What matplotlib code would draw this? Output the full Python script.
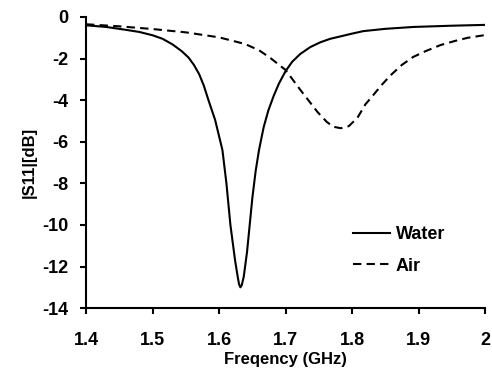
import matplotlib.pyplot as plt

plt.rcParams['font.family'] = ['Liberation Sans', 'DejaVu Sans']
plt.rcParams['font.weight'] = 'bold'
plt.rcParams['axes.unicode_minus'] = False

# Water curve
freq_water = [1.40, 1.43, 1.456, 1.48, 1.50, 1.515, 1.53, 1.544, 1.554, 1.562,
              1.570, 1.577, 1.584, 1.594, 1.605, 1.611, 1.617, 1.624, 1.628, 1.630,
              1.632, 1.634, 1.637, 1.642, 1.646, 1.650, 1.655, 1.660, 1.667, 1.674,
              1.682, 1.690, 1.700, 1.710, 1.722, 1.737, 1.752, 1.767, 1.783, 1.80,
              1.817, 1.85, 1.892, 1.95, 2.00]
s11_water = [-0.40, -0.48, -0.60, -0.72, -0.88, -1.05, -1.32, -1.65, -1.95, -2.3,
             -2.75, -3.3, -4.0, -4.95, -6.4, -8.0, -10.0, -11.7, -12.5, -12.85,
             -13.0, -12.9, -12.5, -11.3, -10.0, -8.7, -7.4, -6.4, -5.3, -4.5,
             -3.8, -3.2, -2.6, -2.15, -1.78, -1.45, -1.22, -1.05, -0.93, -0.80,
             -0.68, -0.57, -0.48, -0.42, -0.38]

# Air curve
freq_air = [1.40, 1.45, 1.50, 1.55, 1.60, 1.639, 1.66, 1.677, 1.70, 1.722, 1.748,
            1.762, 1.772, 1.783, 1.795, 1.808, 1.82, 1.832, 1.845, 1.858, 1.875,
            1.892, 1.91, 1.933, 1.955, 1.974, 2.00]
s11_air = [-0.35, -0.45, -0.58, -0.74, -0.98, -1.30, -1.6, -1.97, -2.55, -3.5, -4.57,
           -5.05, -5.28, -5.35, -5.25, -4.85, -4.2, -3.75, -3.25, -2.8, -2.3,
           -1.92, -1.65, -1.35, -1.15, -1.0, -0.87]

fig = plt.figure(figsize=(4.92, 3.69), dpi=100)
ax = fig.add_axes([0.175, 0.165, 0.811, 0.789])

ax.plot(freq_water, s11_water, color='black', lw=1.5, label='Water')
ax.plot(freq_air, s11_air, color='black', lw=1.5, ls=(0, (4, 2.5)), label='Air')

ax.set_xlim(1.4, 2.0)
ax.set_ylim(-14, 0)
ax.set_xticks([1.4, 1.5, 1.6, 1.7, 1.8, 1.9, 2.0])
ax.set_xticklabels(['1.4', '1.5', '1.6', '1.7', '1.8', '1.9', '2'])
ax.set_yticks(range(-14, 1, 2))
ax.spines['top'].set_visible(False)
ax.spines['right'].set_visible(False)
ax.spines['left'].set_linewidth(1.5)
ax.spines['bottom'].set_linewidth(1.5)
ax.tick_params(direction='out', length=4.5, width=1.5, labelsize=13)
ax.tick_params(axis='x', pad=13)
ax.tick_params(axis='y', pad=8)

ax.set_xlabel('Freqency (GHz)', fontsize=12, fontweight='bold', labelpad=2)
ax.set_ylabel('|S11|[dB]', fontsize=12, fontweight='bold', labelpad=4)

ax.legend(loc='upper left', bbox_to_anchor=(0.652, 0.306), borderaxespad=0,
          frameon=False, fontsize=13, handlelength=2.05, handletextpad=0.3,
          labelspacing=0.8)

fig.savefig('out.png', dpi=100)
